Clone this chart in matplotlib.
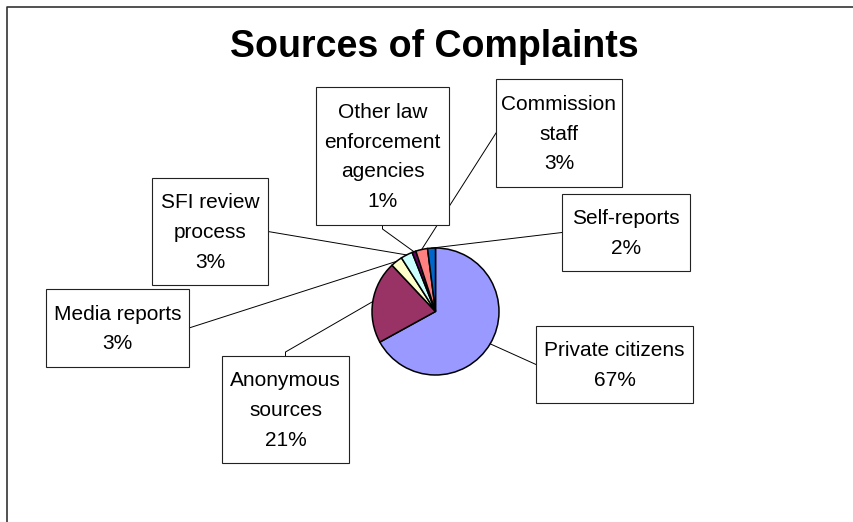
import numpy as np
import matplotlib
matplotlib.use('Agg')
import matplotlib.pyplot as plt
from matplotlib.patches import Rectangle

plt.rcParams['font.family'] = ['Liberation Sans', 'DejaVu Sans']

# data
sources = ['Private citizens', 'Anonymous sources', 'Media reports', 'SFI review process',
           'Other law enforcement agencies', 'Commission staff', 'Self-reports']
label_text = ['Private citizens', 'Anonymous\nsources', 'Media reports', 'SFI review\nprocess',
              'Other law\nenforcement\nagencies', 'Commission\nstaff', 'Self-reports']
percent = [67, 21, 3, 3, 1, 3, 2]
colors = ['#9999FF', '#993366', '#FFFFCC', '#CCFFFF', '#660066', '#FF8080', '#0066CC']

W, H = 854, 522
# label boxes in pixels: left, top, right, bottom, side the leader line leaves from
boxes = [(536, 326, 693, 403, 'left'),
         (222, 356, 349, 463, 'top'),
         (46, 289, 189, 367, 'right'),
         (152, 178, 268, 285, 'right'),
         (316, 87, 449, 225, 'bottom'),
         (496, 79, 622, 187, 'left'),
         (562, 194, 690, 271, 'left')]

fig = plt.figure(figsize=(W / 100, H / 100), dpi=100)
ax = fig.add_axes([0, 0, 1, 1])

cx, cy, r = 435.5, H - 311.5, 63.5
wedges, _ = ax.pie(percent, colors=colors, startangle=90, counterclock=False,
                   center=(cx, cy), radius=r,
                   wedgeprops=dict(edgecolor='black', linewidth=1.1))

ax.set_xlim(0, W)
ax.set_ylim(0, H)
ax.set_aspect('equal')
ax.axis('off')

# chart frame (only top and left edges are inside the picture)
ax.plot([7, 7, W + 5], [-5, H - 7, H - 7], color='#333333', lw=1.2, solid_capstyle='butt')

ax.text(434, H - 57, 'Sources of Complaints', ha='center', va='baseline',
        fontsize=27, fontweight='bold')

for w, txt, p, (x0, y0, x1, y1, side) in zip(wedges, label_text, percent, boxes):
    ax.add_patch(Rectangle((x0, H - y1), x1 - x0, y1 - y0, facecolor='white',
                           edgecolor='#222222', lw=0.8, zorder=3))
    ax.text((x0 + x1) / 2, H - (y0 + y1) / 2 - 1, f'{txt}\n{p}%', ha='center', va='center',
            fontsize=15, linespacing=1.72, zorder=4)
    ang = np.deg2rad((w.theta1 + w.theta2) / 2)
    ex, ey = cx + r * np.cos(ang), cy + r * np.sin(ang)
    if side == 'left':
        pts = [(x0, H - (y0 + y1) / 2)]
    elif side == 'right':
        pts = [(x1, H - (y0 + y1) / 2)]
    elif side == 'top':
        pts = [((x0 + x1) / 2, H - y0), ((x0 + x1) / 2, H - y0 + 4)]
    else:
        pts = [((x0 + x1) / 2, H - y1), ((x0 + x1) / 2, H - y1 - 4)]
    pts.append((ex, ey))
    xs, ys = zip(*pts)
    ax.plot(xs, ys, color='black', lw=0.7, zorder=2)

fig.savefig('out.png', dpi=100)
